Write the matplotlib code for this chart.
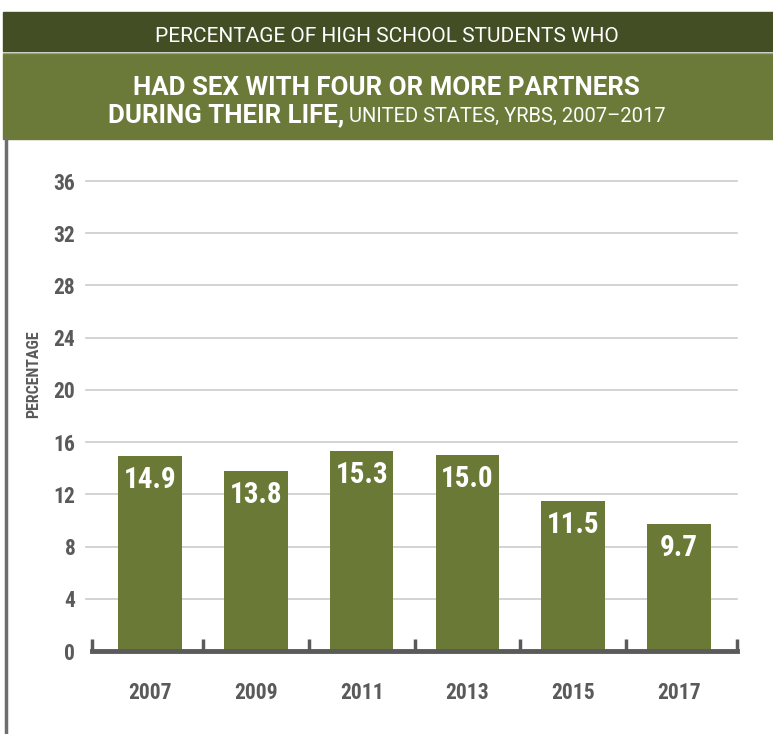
import matplotlib
matplotlib.use("Agg")
import matplotlib.pyplot as plt
from matplotlib.patches import Rectangle
from matplotlib.lines import Line2D

# DATA
years = ["2007", "2009", "2011", "2013", "2015", "2017"]
values = [14.9, 13.8, 15.3, 15.0, 11.5, 9.7]
yticks = [0, 4, 8, 12, 16, 20, 24, 28, 32, 36]

title_top = "PERCENTAGE OF HIGH SCHOOL STUDENTS WHO"
title_main = "HAD SEX WITH FOUR OR MORE PARTNERS"
title_bold = "DURING THEIR LIFE,"
title_rest = " UNITED STATES, YRBS, 2007\u20132017"

# COLOURS / FONTS
DARK = "#434e25"
OLIVE = "#6b7a39"
BAR = "#6a7936"
GRAY = "#5a5a5a"
GRID = "#cccccc"
FONT = ["Roboto Condensed", "DejaVu Sans"]
HEAD_FONT = ["Roboto", "DejaVu Sans"]
plt.rcParams["font.family"] = FONT

fig = plt.figure(figsize=(7.73, 7.34), dpi=100)
W, H = 773.0, 734.0


def fx(px):
    return px / W


def fy(py):
    return 1 - py / H


# HEADER BANDS
fig.patches.append(Rectangle((fx(3), fy(51)), 1, 39 / H, transform=fig.transFigure,
                             color=DARK, zorder=0))
fig.patches.append(Rectangle((fx(3), fy(139)), 1, 85 / H, transform=fig.transFigure,
                             color=OLIVE, zorder=0))
fig.lines.append(Line2D([fx(3), 1], [fy(52.5), fy(52.5)], transform=fig.transFigure,
                        color="#9aa27a", lw=1.0))
# LEFT BORDER
fig.lines.append(Line2D([fx(5.5), fx(5.5)], [0, fy(139)], transform=fig.transFigure,
                        color="#6e6e6e", lw=2.5))

fig.text(0.5, fy(42), title_top, ha="center", va="baseline", color="white",
         fontsize=15, family=HEAD_FONT)
fig.text(0.5, fy(95), title_main, ha="center", va="baseline", color="white",
         fontsize=18.6, fontweight="bold", family=HEAD_FONT)

# LINE 3: BOLD PART + SMALLER PART, CENTRED TOGETHER
t1 = fig.text(0, fy(122), title_bold, ha="left", va="baseline", color="white",
              fontsize=18.6, fontweight="bold", family=HEAD_FONT)
t2 = fig.text(0, fy(122), title_rest, ha="left", va="baseline", color="white",
              fontsize=14.5, family=HEAD_FONT)
r = fig.canvas.get_renderer()
w1 = t1.get_window_extent(r).width / W
w2 = t2.get_window_extent(r).width / W
x0 = 0.5 - (w1 + w2) / 2
t1.set_x(x0)
t2.set_x(x0 + w1)

# AXES
ax = fig.add_axes([fx(92), fy(651), fx(737) - fx(92), (651 - 181) / H])
x = list(range(len(years)))
ax.bar(x, values, width=0.6, color=BAR, zorder=2)
ax.set_xlim(-0.55, len(years) - 0.45)
ax.set_ylim(0, 36)

for y in yticks[1:]:
    ax.axhline(y, xmin=-0.01, xmax=1, color=GRID, lw=1.2, zorder=1, clip_on=False)

for xi, v in zip(x, values):
    ax.annotate(f"{v:.1f}", (xi, v), xytext=(0, -7), textcoords="offset points",
                ha="center", va="top", color="white", fontsize=21, fontweight="bold",
                zorder=3)

for s in ["top", "right", "left"]:
    ax.spines[s].set_visible(False)
ax.spines["bottom"].set_color(GRAY)
ax.spines["bottom"].set_linewidth(3.5)
ax.spines["bottom"].set_zorder(4)

# TICK MARKS AT GROUP BOUNDARIES
bounds = [-0.55] + [i + 0.5 for i in range(len(years) - 1)] + [len(years) - 0.45]
for b in bounds:
    ax.plot([b, b], [0, 0.95], color=GRAY, lw=2.5, clip_on=False, zorder=4,
            solid_capstyle="butt")

ax.set_xticks(x)
ax.set_xticklabels(years, fontsize=15.5, fontweight="bold", color=GRAY)
ax.tick_params(axis="x", length=0, pad=22)
ax.set_yticks(yticks)
ax.set_yticklabels([str(t) for t in yticks], fontsize=15.5, fontweight="bold", color=GRAY)
ax.tick_params(axis="y", length=0, pad=12)

fig.text(fx(34), fy(374), "PERCENTAGE", rotation=90, ha="center", va="center",
         fontsize=11.5, fontweight="bold", color=GRAY)

fig.savefig("out.png", dpi=100)
